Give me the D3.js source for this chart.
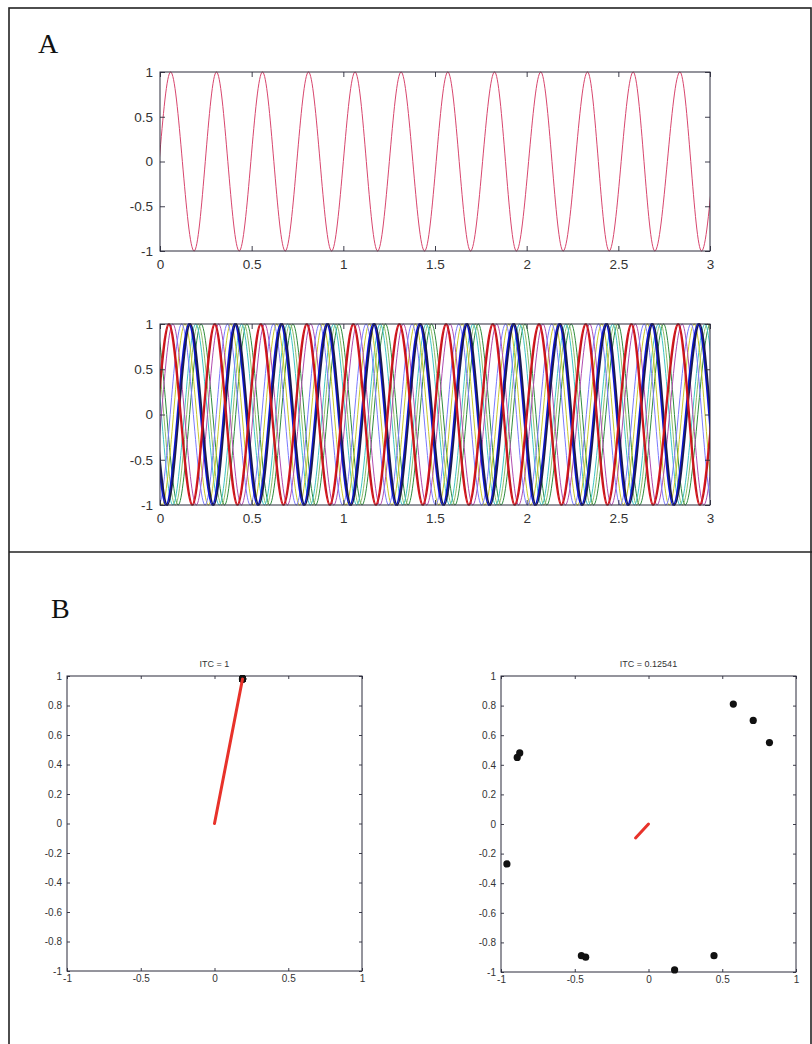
<!DOCTYPE html>
<html>
<head>
<meta charset="utf-8">
<script src="https://cdn.jsdelivr.net/npm/d3@7"></script>
<style>
  body { margin: 0; background: #fff; }
  svg { display: block; }
</style>
</head>
<body>
<svg id="chart" width="812" height="1044"></svg>
<script>

// ---- data ----
var waveXTicks = [0, 0.5, 1, 1.5, 2, 2.5, 3];
var waveYTicks = [-1, -0.5, 0, 0.5, 1];

// single trial (panel A, top): times of maxima and minima, seconds
var singlePeaks   = [-0.192, 0.058, 0.308, 0.559, 0.810, 1.064, 1.315, 1.570, 1.825, 2.077, 2.332, 2.581, 2.836, 3.086];
var singleTroughs = [-0.317, -0.067, 0.186, 0.432, 0.683, 0.936, 1.187, 1.443, 1.694, 1.944, 2.199, 2.450, 2.699, 2.954, 3.200];

// ten trials (panel A, bottom): time shift of each trial against the single trial
var trialShifts = [0.166, 0.150, 0.137, 0.078, 0.012, 0.060, 0.100, 0.107, -0.012, -0.007];
var trialColors = ["#2e8b3e", "#8fbf6a", "#3fc5c5", "#c9c92a", "#b04cb0", "#7a7aff", "#0a14d8", "#1a1a50", "#e01820", "#c0141c"];
var trialWidths = [1, 1, 1, 1, 1, 1, 1.8, 1.8, 1.4, 1.4];

// panel B: unit phase vectors
var phaseTicksX = [-1, -0.5, 0, 0.5, 1];
var phaseTicksY = [-1, -0.8, -0.6, -0.4, -0.2, 0, 0.2, 0.4, 0.6, 0.8, 1];
var lockedX  = [0.19, 0.19, 0.19, 0.19, 0.19, 0.19, 0.19, 0.19, 0.19, 0.19];
var lockedY  = [0.98, 0.98, 0.98, 0.98, 0.98, 0.98, 0.98, 0.98, 0.98, 0.98];
var scatterX = [0.575, 0.71, 0.82, -0.89, -0.873, -0.96, -0.455, -0.426, 0.177, 0.444];
var scatterY = [0.81, 0.70, 0.55, 0.45, 0.48, -0.27, -0.89, -0.90, -0.986, -0.89];
var itcTitles = ["ITC = 1", "ITC = 0.12541"];

var FONT = "Arial, 'Liberation Sans', Helvetica, sans-serif";
var AXIS_COLOR = "#2a2a3a";

var svg = d3.select("#chart");


function drawFrame()
{
  svg.append("rect")
     .attr("x", 9).attr("y", 8)
     .attr("width", 802).attr("height", 1045)
     .attr("fill", "none")
     .attr("stroke", "#222")
     .attr("stroke-width", 1.6);

  svg.append("line")
     .attr("x1", 9).attr("x2", 812)
     .attr("y1", 552).attr("y2", 552)
     .attr("stroke", "#222")
     .attr("stroke-width", 1.6);

  svg.append("text").text("A")
     .attr("x", 38).attr("y", 53)
     .attr("font-family", "'Liberation Serif', 'Times New Roman', serif")
     .attr("font-size", "28px")
     .attr("fill", "#111");

  svg.append("text").text("B")
     .attr("x", 51).attr("y", 618)
     .attr("font-family", "'Liberation Serif', 'Times New Roman', serif")
     .attr("font-size", "28px")
     .attr("fill", "#111");
}


// matlab style box: ticks pointing inwards on all four sides
function drawBox(g, x, y, xTicks, yTicks, tickLen, fontSize, padX, padY)
{
  var fmt = function(d) { return String(+d.toFixed(2)); };
  var r = x.range(), t = y.range();

  g.append("g")
   .attr("transform", "translate(0," + t[0] + ")")
   .call(d3.axisBottom(x).tickValues(xTicks).tickSizeInner(-tickLen).tickSizeOuter(0).tickPadding(padX).tickFormat(fmt));
  g.append("g")
   .attr("transform", "translate(0," + t[1] + ")")
   .call(d3.axisTop(x).tickValues(xTicks).tickSizeInner(-tickLen).tickSizeOuter(0).tickFormat(""));
  g.append("g")
   .attr("transform", "translate(" + r[0] + ",0)")
   .call(d3.axisLeft(y).tickValues(yTicks).tickSizeInner(-tickLen).tickSizeOuter(0).tickPadding(padY).tickFormat(fmt));
  g.append("g")
   .attr("transform", "translate(" + r[1] + ",0)")
   .call(d3.axisRight(y).tickValues(yTicks).tickSizeInner(-tickLen).tickSizeOuter(0).tickFormat(""));

  g.selectAll(".domain").remove();
  g.selectAll(".tick line").attr("stroke", AXIS_COLOR).attr("stroke-width", 0.9);
  g.selectAll(".tick text")
   .attr("font-family", FONT)
   .attr("font-size", fontSize + "px")
   .attr("fill", "#333");

  g.append("rect")
   .attr("x", r[0]).attr("y", t[1])
   .attr("width", r[1] - r[0]).attr("height", t[0] - t[1])
   .attr("fill", "none")
   .attr("stroke", AXIS_COLOR)
   .attr("stroke-width", 1);
}


function extremaPoints(shift)
{
  var pts = [];
  singlePeaks.forEach(function(p) { pts.push({t: p + shift, v: 1}); });
  singleTroughs.forEach(function(p) { pts.push({t: p + shift, v: -1}); });
  pts.sort(function(a, b) { return a.t - b.t; });
  return pts;
}


function wavePanel(id, box, shifts, colors, widths)
{
  var x = d3.scaleLinear().domain([0, 3]).range([box.x0, box.x1]);
  var y = d3.scaleLinear().domain([-1, 1]).range([box.y1, box.y0]);
  var g = svg.append("g");

  g.append("clipPath").attr("id", id)
   .append("rect")
   .attr("x", box.x0).attr("y", box.y0 - 1)
   .attr("width", box.x1 - box.x0).attr("height", box.y1 - box.y0 + 2);

  var line = d3.line()
               .x(function(d) { return x(d.t); })
               .y(function(d) { return y(d.v); })
               .curve(d3.curveMonotoneX);

  var traces = g.append("g").attr("clip-path", "url(#" + id + ")");
  for (var i = 0; i < shifts.length; i++)
  {
    traces.append("path")
          .attr("d", line(extremaPoints(shifts[i])))
          .attr("fill", "none")
          .attr("stroke", colors[i])
          .attr("stroke-width", widths[i]);
  }

  drawBox(g, x, y, waveXTicks, waveYTicks, 5, 13.5, 8, 7);
}


function phasePanel(box, px, py, title)
{
  var x = d3.scaleLinear().domain([-1, 1]).range([box.x0, box.x1]);
  var y = d3.scaleLinear().domain([-1, 1]).range([box.y1, box.y0]);
  var g = svg.append("g");

  drawBox(g, x, y, phaseTicksX, phaseTicksY, 3, 10, 4, 5);

  g.append("text").text(title)
   .attr("x", (box.x0 + box.x1) / 2)
   .attr("y", box.y0 - 9)
   .attr("text-anchor", "middle")
   .attr("font-family", FONT)
   .attr("font-size", "9px")
   .attr("fill", "#333");

  var pts = px.map(function(d, i) { return [d, py[i]]; });
  g.selectAll("circle.trial")
   .data(pts)
   .enter().append("circle")
   .attr("class", "trial")
   .attr("cx", function(d) { return x(d[0]); })
   .attr("cy", function(d) { return y(d[1]); })
   .attr("r", 3.6)
   .attr("fill", "#111");

  // mean resultant vector
  var mx = d3.mean(px), my = d3.mean(py);
  g.append("line")
   .attr("x1", x(0)).attr("y1", y(0))
   .attr("x2", x(mx)).attr("y2", y(my))
   .attr("stroke", "#e8322a")
   .attr("stroke-width", 3)
   .attr("stroke-linecap", "round");
}


drawFrame();
wavePanel("clipA1", {x0: 160, x1: 710, y0: 72, y1: 251}, [0], ["#d8466e"], [1]);
wavePanel("clipA2", {x0: 160, x1: 710, y0: 324, y1: 505}, trialShifts, trialColors, trialWidths);
phasePanel({x0: 67, x1: 362, y0: 676, y1: 971}, lockedX, lockedY, itcTitles[0]);
phasePanel({x0: 501, x1: 796, y0: 676, y1: 972}, scatterX, scatterY, itcTitles[1]);

</script>
</body>
</html>
